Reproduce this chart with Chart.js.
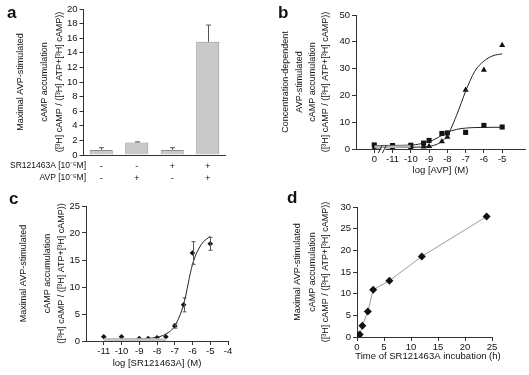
<!DOCTYPE html>
<html><head><meta charset="utf-8">
<script src="https://cdn.jsdelivr.net/npm/chart.js@4.4.1/dist/chart.umd.min.js"></script>
<style>
html,body{margin:0;padding:0;background:#fff;}
#wrap{position:relative;width:529px;height:375px;overflow:hidden;background:#fff;}
canvas{position:absolute;}
</style></head><body>
<div id="wrap">
<canvas id="ca" width="265" height="187" style="left:0;top:0"></canvas>
<canvas id="cb" width="264" height="187" style="left:265px;top:0"></canvas>
<canvas id="cc" width="265" height="188" style="left:0;top:187px"></canvas>
<canvas id="cd" width="264" height="188" style="left:265px;top:187px"></canvas>
</div>
<script>
// ---------- Panel a ----------
const aSR = ['-', '-', '+', '+'];
const aAVP = ['-', '+', '-', '+'];
const aValues = [0.7, 1.7, 0.7, 15.5];
const aErrors = [0.3, 0.1, 0.3, 2.3];
const aRowLabels = ['SR121463A [10\u207B\u2075M]', 'AVP [10\u207B\u2075M]'];

// ---------- Panel b ----------
const bDoses = [0, -11, -10, -9.3, -9, -8.3, -8, -7, -6, -5]; // 0 = no AVP
const bSquares = [1.5, 1.3, 1.4, 2.2, 3.2, 5.8, 6.0, 6.2, 8.8, 8.2];
const bTriangles = [0.3, 0.5, 0.5, 0.8, 1.0, 2.8, 4.5, 22.0, 29.5, 38.7];
const bFitX = [0, -11, -10, -9.5, -9, -8.5, -8, -7.5, -7, -6.5, -6, -5.5, -5];
const bFitSquares = [1.3, 1.35, 1.45, 1.9, 2.7, 4.3, 6.2, 7.3, 7.8, 8.0, 8.05, 8.1, 8.1];
const bFitTriangles = [0.4, 0.5, 0.6, 0.75, 1.0, 2.0, 5.0, 12.5, 21.5, 29.0, 32.8, 34.8, 35.5];
const bBandX = [0, -11, -10];
const bBandUpper = [1.3, 1.35, 1.4];
const bBandLower = [0.3, 0.4, 0.5];
const bTickValues = [0, -11, -10, -9, -8, -7, -6, -5];
const bTickLabels = ['0', '-11', '-10', '-9', '-8', '-7', '-6', '-5'];

// ---------- Panel c ----------
const cDoses = [-11, -10, -9, -8.5, -8, -7.5, -7, -6.5, -6, -5];
const cValues = [0.8, 0.8, 0.45, 0.45, 0.6, 0.8, 2.8, 6.7, 16.3, 18.0];
const cErrors = [0, 0, 0, 0, 0, 0, 0.4, 1.3, 2.1, 1.2];
const cFitX = [-11, -10, -9, -8, -7.5, -7, -6.5, -6, -5.5, -5];
const cFitY = [0.35, 0.35, 0.4, 0.7, 1.3, 2.8, 6.8, 14.2, 17.9, 19.4];
const cBandX = [-11, -7.5];
const cBandY = [0.25, 0.25];
const cTickValues = [-11, -10, -9, -8, -7, -6, -5, -4];

// ---------- Panel d ----------
const dTimes = [0.1, 0.25, 0.5, 1, 2, 3, 6, 12, 24];
const dValues = [0.1, 0.3, 0.6, 2.6, 5.9, 10.9, 13.0, 18.6, 27.8];

// ---------- helpers ----------
const FONT = '"Liberation Sans", Arial, Helvetica, sans-serif';
Chart.defaults.font.family = FONT;
Chart.defaults.font.size = 9.5;
Chart.defaults.color = '#111';
Chart.defaults.animation = false;
const AX = '#333';
const bPos = d => (d === 0 ? -12 : d);
const pts = (xs, ys, f) => xs.map((x, i) => ({ x: f ? f(x) : x, y: ys[i] }));

const textPlugin = {
  id: 'panelText',
  afterDraw(chart, args, o) {
    if (!o || !o.letter) return;
    const ctx = chart.ctx, ca = chart.chartArea;
    ctx.save();
    ctx.fillStyle = '#111';
    ctx.font = 'bold 17px ' + FONT;
    ctx.textAlign = 'left'; ctx.textBaseline = 'alphabetic';
    ctx.fillText(o.letter, o.letterX, o.letterY);
    ctx.font = '9px ' + FONT;
    const cy = (ca.top + ca.bottom) / 2;
    o.yTitle.forEach((line, i) => {
      ctx.save();
      ctx.translate(o.yTitleX[i], cy);
      ctx.rotate(-Math.PI / 2);
      ctx.textAlign = 'center'; ctx.textBaseline = 'middle';
      ctx.fillText(line, 0, 0);
      ctx.restore();
    });
    if (o.xTitle) {
      ctx.font = '9.5px ' + FONT;
      ctx.textAlign = 'center'; ctx.textBaseline = 'middle';
      ctx.fillText(o.xTitle, o.xTitleX != null ? o.xTitleX : (ca.left + ca.right) / 2, o.xTitleY);
    }
    if (o.rows) {
      ctx.textBaseline = 'middle';
      const xs = chart.scales.x;
      o.rows.forEach((row, r) => {
        ctx.font = '8.5px ' + FONT;
        ctx.textAlign = 'right';
        ctx.fillText(o.rowLabels[r], o.rowLabelX, o.rowY[r]);
        ctx.font = '9.5px ' + FONT;
        ctx.textAlign = 'center';
        row.forEach((m, i) => ctx.fillText(m, xs.getPixelForValue(i), o.rowY[r]));
      });
    }
    if (o.breakAt != null) {
      const x = chart.scales.x.getPixelForValue(o.breakAt), y = ca.bottom;
      ctx.fillStyle = '#fff';
      ctx.fillRect(x - 2, y - 1, 4, 3);
      ctx.strokeStyle = '#222'; ctx.lineWidth = 1;
      ctx.beginPath();
      ctx.moveTo(x - 5, y + 4); ctx.lineTo(x - 1, y - 4);
      ctx.moveTo(x - 1, y + 4); ctx.lineTo(x + 3, y - 4);
      ctx.stroke();
    }
    ctx.restore();
  }
};
const errPlugin = {
  id: 'errBars',
  afterDatasetsDraw(chart, args, o) {
    if (!o || !o.errors) return;
    const ctx = chart.ctx, ys = chart.scales.y;
    const meta = chart.getDatasetMeta(o.dataset);
    const vals = chart.data.datasets[o.dataset].data;
    ctx.save();
    ctx.strokeStyle = o.color || '#444'; ctx.lineWidth = 1;
    meta.data.forEach((el, i) => {
      const e = o.errors[i];
      if (!e) return;
      const v = typeof vals[i] === 'object' ? vals[i].y : vals[i];
      const x = Math.round(el.x) + 0.5;
      const yt = ys.getPixelForValue(v + e);
      const yb = ys.getPixelForValue(o.upOnly ? v : v - e);
      ctx.beginPath();
      ctx.moveTo(x, yb); ctx.lineTo(x, yt);
      ctx.moveTo(x - o.cap, yt); ctx.lineTo(x + o.cap, yt);
      if (!o.upOnly) { ctx.moveTo(x - o.cap, yb); ctx.lineTo(x + o.cap, yb); }
      ctx.stroke();
    });
    ctx.restore();
  }
};
Chart.register(textPlugin, errPlugin);

const yAxis = (min, max, step, width) => ({
  type: 'linear', min, max,
  ticks: { stepSize: step, padding: 2, color: '#111', font: { size: 9.5 } },
  grid: { display: true, drawOnChartArea: false, drawTicks: true, tickLength: 4, color: AX },
  border: { display: true, color: AX, width: 1 },
  afterFit: s => { s.width = width; }
});
const xLinear = (min, max, tickValues, labels, height) => ({
  type: 'linear', min, max,
  afterBuildTicks: s => { s.ticks = tickValues.map(v => ({ value: v })); },
  ticks: { autoSkip: false, maxRotation: 0, padding: 1, color: '#111', font: { size: 9.5 },
           callback: (v, i) => labels[i] },
  grid: { display: true, drawOnChartArea: false, drawTicks: true, tickLength: 4, color: AX },
  border: { display: true, color: AX, width: 1 },
  afterFit: s => { s.height = height; }
});
const base = (padding) => ({
  responsive: false, animation: false,
  layout: { padding },
  plugins: { legend: { display: false }, tooltip: { enabled: false } }
});

// ---------- Chart a ----------
{
  const opt = base({ left: 0, top: 9, right: 39.5, bottom: 0 });
  opt.scales = {
    x: { type: 'category', offset: true,
         grid: { display: false }, ticks: { display: false },
         border: { display: true, color: AX, width: 1 },
         afterFit: s => { s.height = 32; } },
    y: yAxis(0, 20, 2, 83.5)
  };
  opt.plugins.panelText = {
    letter: 'a', letterX: 7, letterY: 18,
    yTitle: ['Maximal AVP-stimulated', 'cAMP accumulation', '([\u00B3H] cAMP / ([\u00B3H] ATP+[\u00B3H] cAMP))'],
    yTitleX: [21, 45, 60],
    rows: [aSR, aAVP], rowLabels: aRowLabels, rowLabelX: 86, rowY: [166, 178]
  };
  opt.plugins.errBars = { dataset: 0, errors: aErrors, upOnly: true, cap: 2.5, color: '#555' };
  new Chart(document.getElementById('ca'), {
    type: 'bar',
    data: { labels: aSR.map((s, i) => s + aAVP[i]),
      datasets: [{ data: aValues, backgroundColor: '#c9c9c9', borderColor: '#8e8e8e', borderWidth: 1,
                   categoryPercentage: 1, barPercentage: 0.65 }] },
    options: opt
  });
}

// ---------- Chart b ----------
{
  const opt = base({ left: 0, top: 15, right: 2, bottom: 0 });
  opt.scales = {
    x: xLinear(-13, -3.75, bTickValues.map(bPos), bTickLabels, 38),
    y: yAxis(0, 50, 10, 91)
  };
  opt.plugins.panelText = {
    letter: 'b', letterX: 13, letterY: 18,
    yTitle: ['Concentration-dependent', 'AVP-stimulated', 'cAMP accumulation', '([\u00B3H] cAMP / ([\u00B3H] ATP+[\u00B3H] cAMP))'],
    yTitleX: [21, 35, 48, 61],
    xTitle: 'log [AVP] (M)', xTitleY: 170,
    breakAt: -11.5
  };
  new Chart(document.getElementById('cb'), {
    type: 'line',
    data: { datasets: [
      { data: pts(bBandX, bBandLower, bPos), borderWidth: 0, pointRadius: 0, fill: false, borderColor: 'rgba(0,0,0,0)' },
      { data: pts(bBandX, bBandUpper, bPos), borderWidth: 0, pointRadius: 0, fill: '-1', backgroundColor: '#b5b5b5', borderColor: 'rgba(0,0,0,0)' },
      { data: pts(bFitX, bFitTriangles, bPos), borderColor: '#222', borderWidth: 1, pointRadius: 0, cubicInterpolationMode: 'monotone', fill: false },
      { data: pts(bFitX, bFitSquares, bPos), borderColor: '#222', borderWidth: 1, pointRadius: 0, cubicInterpolationMode: 'monotone', fill: false },
      { data: pts(bDoses, bTriangles, bPos), showLine: false, pointStyle: 'triangle', pointRadius: 3.5, backgroundColor: '#111', borderColor: '#111', borderWidth: 0 },
      { data: pts(bDoses, bSquares, bPos), showLine: false, pointStyle: 'rect', pointRadius: 3.6, backgroundColor: '#111', borderColor: '#111', borderWidth: 0 }
    ] },
    options: opt
  });
}

// ---------- Chart c ----------
{
  const opt = base({ left: 0, top: 19, right: 37, bottom: 0 });
  opt.scales = {
    x: xLinear(-12, -4, cTickValues, cTickValues.map(String), 34),
    y: yAxis(0, 25, 5, 86)
  };
  opt.plugins.panelText = {
    letter: 'c', letterX: 9, letterY: 17,
    yTitle: ['Maximal AVP-stimulated', 'cAMP accumulation', '([\u00B3H] cAMP / ([\u00B3H] ATP+[\u00B3H] cAMP))'],
    yTitleX: [24, 48, 62],
    xTitle: 'log [SR121463A] (M)', xTitleY: 176
  };
  opt.plugins.errBars = { dataset: 2, errors: cErrors, upOnly: false, cap: 2, color: '#555' };
  new Chart(document.getElementById('cc'), {
    type: 'line',
    data: { datasets: [
      { data: pts(cBandX, cBandY), borderColor: '#c4c4c4', borderWidth: 3, pointRadius: 0, fill: false },
      { data: pts(cFitX, cFitY), borderColor: '#222', borderWidth: 1, pointRadius: 0, cubicInterpolationMode: 'monotone', fill: false },
      { data: pts(cDoses, cValues), showLine: false, pointStyle: 'rectRot', pointRadius: 2.8, backgroundColor: '#111', borderColor: '#111', borderWidth: 0 }
    ] },
    options: opt
  });
}

// ---------- Chart d ----------
{
  const opt = base({ left: 0, top: 20, right: 37, bottom: 0 });
  opt.scales = {
    x: xLinear(0, 25, [0, 5, 10, 15, 20, 25], ['0', '5', '10', '15', '20', '25'], 38),
    y: yAxis(0, 30, 5, 92)
  };
  opt.plugins.panelText = {
    letter: 'd', letterX: 22, letterY: 16,
    yTitle: ['Maximal AVP-stimulated', 'cAMP accumulation', '([\u00B3H] cAMP / ([\u00B3H] ATP+[\u00B3H] cAMP))'],
    yTitleX: [33, 48, 61],
    xTitle: 'Time of SR121463A incubation (h)', xTitleX: 163, xTitleY: 169
  };
  new Chart(document.getElementById('cd'), {
    type: 'line',
    data: { datasets: [
      { data: pts(dTimes, dValues), borderColor: '#9a9a9a', borderWidth: 1, pointStyle: 'rectRot', pointRadius: 4,
        pointBackgroundColor: '#111', pointBorderColor: '#111', pointBorderWidth: 0, fill: false, tension: 0 }
    ] },
    options: opt
  });
}
</script>
</body></html>
